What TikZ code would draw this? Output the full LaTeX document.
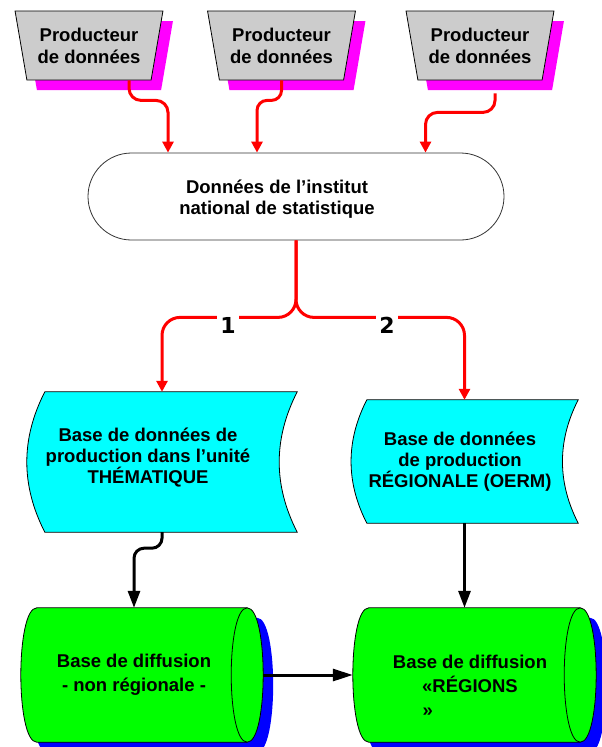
\documentclass[tikz,border=0pt]{standalone}
\usepackage{fontspec}
\setmainfont{Liberation Sans}
\newfontfamily\numfont{DejaVu Sans}
\usetikzlibrary{shapes.geometric,arrows.meta,positioning}

\definecolor{boxgrey}{RGB}{204,204,204}
\definecolor{boxcyan}{RGB}{0,255,255}
\definecolor{boxgreen}{RGB}{0,255,0}
\definecolor{shadowpink}{RGB}{255,0,255}
\definecolor{shadowblue}{RGB}{0,0,255}

\tikzset{
  txt/.style={inner sep=0pt, align=center, font=\bfseries\fontsize{18.5}{21}\selectfont},
  producer/.style={trapezium, shape border rotate=180, trapezium left angle=74.6,
    trapezium right angle=74.6, trapezium stretches=true, minimum width=148pt,
    minimum height=69pt, inner sep=0pt, draw=black, line width=0.8pt, fill=boxgrey,
    preaction={fill=shadowpink, draw=none, transform canvas={xshift=10pt,yshift=-10pt}},
    align=center, font=\bfseries\fontsize{18.5}{22}\selectfont},
  terminal/.style={draw=black!80, line width=0.8pt, rounded corners=43.5pt,
    minimum width=416pt, minimum height=87pt, inner sep=0pt},
  frame/.style={inner sep=0pt, draw=none},
  dbfill/.style={draw=black, line width=0.8pt, fill=boxcyan},
  storefill/.style={draw=black, line width=0.8pt, fill=boxgreen,
    preaction={fill=shadowblue, draw=none, transform canvas={xshift=10pt,yshift=-10pt}}},
  redarrow/.style={draw=red, line width=3pt, -{Triangle[length=11pt,width=11pt]}},
  blackarrow/.style={draw=black, line width=3pt, -{Triangle[length=17pt,width=12pt]}},
  num/.style={fill=white, inner sep=3pt, font=\numfont\bfseries\fontsize{22}{22}\selectfont}
}

\begin{document}
\begin{tikzpicture}[x=1pt,y=-1pt]
\useasboundingbox (0,0) rectangle (602,747);
% producteurs
\node[producer] (p1) at (89,45.5) {Producteur\\de données};
\node[producer] (p2) at (281.5,45.5) {Producteur\\de données};
\node[producer] (p3) at (480,45.5) {Producteur\\de données};
% institut
\node[terminal] (term) at (296,196.5) {};
\node[txt] (termtxt) at (277,199) {Données de l’institut\\national de statistique};
\draw[redarrow, rounded corners=12pt] ([xshift=40pt]p1.south) -- ++(0,20) -| ([xshift=-128pt]term.north);
\draw[redarrow, rounded corners=10pt] (p2.south) -- ++(0,20) -| ([xshift=-39pt]term.north);
\draw[redarrow, rounded corners=12pt] ([xshift=15pt,yshift=-13pt]p3.south) -- ++(0,19) -| ([xshift=129.5pt]term.north);
% bases de production
\node[frame, minimum width=270pt, minimum height=140pt] (db1) at (162,462) {};
\node[frame, minimum width=227pt, minimum height=123pt] (db2) at (464.5,461.5) {};
\draw[dbfill] ([xshift=18pt]db1.north west) -- (db1.north east)
  .. controls ([xshift=-24pt,yshift=-47pt]db1.north east) and ([xshift=-24pt,yshift=47pt]db1.south east) .. (db1.south east)
  -- ([xshift=18pt]db1.south west)
  .. controls ([xshift=-6pt,yshift=47pt]db1.south west) and ([xshift=-6pt,yshift=-47pt]db1.north west) .. ([xshift=18pt]db1.north west) -- cycle;
\draw[dbfill] ([xshift=16pt]db2.north west) -- (db2.north east)
  .. controls ([xshift=-21pt,yshift=-41pt]db2.north east) and ([xshift=-21pt,yshift=41pt]db2.south east) .. (db2.south east)
  -- ([xshift=16pt]db2.south west)
  .. controls ([xshift=-5pt,yshift=41pt]db2.south west) and ([xshift=-5pt,yshift=-41pt]db2.north west) .. ([xshift=16pt]db2.north west) -- cycle;
\node[txt] (db1txt) at (148,458) {Base de données de\\production dans l’unité\\THÉMATIQUE};
\node[txt] (db2txt) at (460,462) {Base de données\\de production\\RÉGIONALE (OERM)};
\draw[redarrow, rounded corners=18pt] (term.south) -- ++(0,77) -| (db1.north);
\draw[redarrow, rounded corners=18pt] (term.south) -- ++(0,77) -| (db2.north);
\node[num] (n1) at (228,325) {1};
\node[num] (n2) at (387,325) {2};
% bases de diffusion
\node[frame, minimum width=242pt, minimum height=134pt] (cyl1) at (142,675) {};
\node[frame, minimum width=243pt, minimum height=134pt] (cyl2) at (474.5,675) {};
\draw[storefill] ([xshift=16pt]cyl1.north west) -- ([xshift=-16pt]cyl1.north east)
  .. controls ([xshift=5.3pt]cyl1.north east) and ([xshift=5.3pt]cyl1.south east) .. ([xshift=-16pt]cyl1.south east)
  -- ([xshift=16pt]cyl1.south west)
  .. controls ([xshift=-5.3pt]cyl1.south west) and ([xshift=-5.3pt]cyl1.north west) .. ([xshift=16pt]cyl1.north west) -- cycle;
\draw[line width=0.8pt] ([xshift=-16pt]cyl1.north east)
  .. controls ([xshift=-37.3pt]cyl1.north east) and ([xshift=-37.3pt]cyl1.south east) .. ([xshift=-16pt]cyl1.south east);
\draw[storefill] ([xshift=16pt]cyl2.north west) -- ([xshift=-16pt]cyl2.north east)
  .. controls ([xshift=5.3pt]cyl2.north east) and ([xshift=5.3pt]cyl2.south east) .. ([xshift=-16pt]cyl2.south east)
  -- ([xshift=16pt]cyl2.south west)
  .. controls ([xshift=-5.3pt]cyl2.south west) and ([xshift=-5.3pt]cyl2.north west) .. ([xshift=16pt]cyl2.north west) -- cycle;
\draw[line width=0.8pt] ([xshift=-16pt]cyl2.north east)
  .. controls ([xshift=-37.3pt]cyl2.north east) and ([xshift=-37.3pt]cyl2.south east) .. ([xshift=-16pt]cyl2.south east);
\node[txt, font=\bfseries\fontsize{18.5}{24}\selectfont] (cyl1txt) at (134,675) {Base de diffusion\\- non régionale -};
\node[txt, font=\bfseries\fontsize{18.5}{24}\selectfont] (cyl2txt) at (470,686) {Base de diffusion\\«RÉGIONS\\\makebox[95pt][l]{»}};
\draw[blackarrow, rounded corners=10pt] (db1.south) -- ++(0,16) -| ([xshift=-8pt]cyl1.north);
\draw[blackarrow] (db2.south) -- (db2.south |- cyl2.north);
\draw[blackarrow, -{Triangle[length=20pt,width=12pt]}] (cyl1.east) -- (cyl2.west);
\end{tikzpicture}
\end{document}
